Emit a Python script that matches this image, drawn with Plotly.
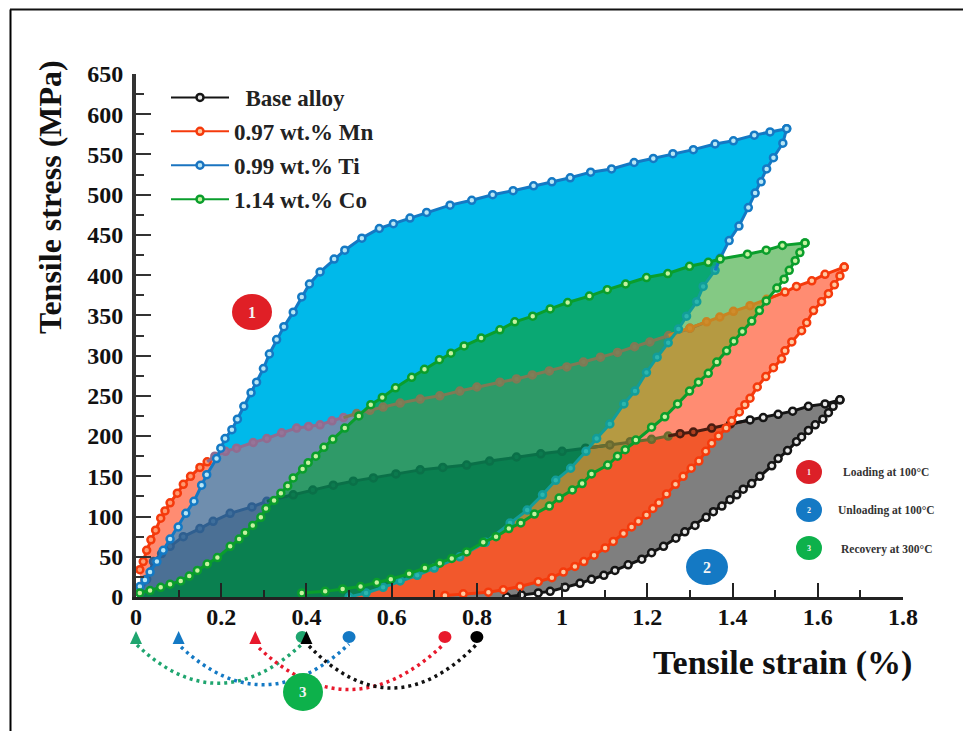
import numpy as np
import plotly.graph_objects as go
from itertools import combinations

# ---------- data (strain %, stress MPa) ----------
ti_load_x = [.009,.021,.033,.049,.064,.080,.099,.117,.136,.154,.166,.189,.199,.209,.225,.238,.253,.270,.283,.299,.313,.330,.347,.369,.389,.407,.432,.465,.490,.530,.571,.604,.643,.682,.737,.788,.837,.885,.933,.976,1.019,1.067,1.116,1.169,1.214,1.260,1.308,1.359,1.402,1.451,1.488,1.527]
ti_load_y = [13,21,31,44,58,72,87,104,119,139,152,172,185,197,208,221,237,254,267,284,302,320,336,354,373,389,404,420,431,446,458,464,471,478,487,493,500,505,511,516,521,528,532,540,545,551,556,563,567,574,578,582]
ti_unload_x = [1.527,1.518,1.496,1.480,1.467,1.453,1.437,1.415,1.392,1.371,1.359,1.331,1.316,1.292,1.273,1.249,1.223,1.198,1.171,1.145,1.112,1.081,1.056,1.020,.985,.954,.918,.878,.82,.76,.70,.66,.62,.58,.54,.50]
ti_unload_y = [582,564,546,532,516,502,484,461,443,421,406,386,367,349,333,316,298,279,256,240,215,197,181,160,145,127,108,92,68,50,36,27,20,12,5,0]

co_load_x = [.009,.033,.058,.080,.105,.125,.144,.167,.191,.221,.242,.256,.274,.293,.305,.324,.340,.356,.369,.391,.404,.422,.441,.462,.490,.523,.551,.578,.609,.647,.677,.712,.739,.770,.81,.854,.889,.931,.972,1.013,1.064,1.106,1.149,1.198,1.248,1.299,1.343,1.371,1.435,1.479,1.517,1.570]
co_load_y = [5,8,12,16,20,26,33,41,49,63,72,80,89,99,110,120,129,138,148,159,167,175,186,196,210,225,239,248,260,273,283,295,303,312,322,332,342,349,358,366,374,382,389,397,402,411,416,420,426,431,437,440]
co_unload_x = [1.570,1.558,1.547,1.533,1.521,1.504,1.479,1.463,1.445,1.423,1.403,1.386,1.363,1.343,1.320,1.299,1.271,1.241,1.210,1.173,1.148,1.130,1.107,1.069,1.047,1.024,.993,.970,.935,.903,.875,.845,.815,.776,.741,.713,.678,.641,.598,.565,.527,.485,.444,.389]
co_unload_y = [440,428,418,406,395,384,368,356,343,330,318,306,292,278,267,256,240,224,211,195,183,175,164,153,141,133,123,113,103,92,85,75,68,56,48,42,36,29,22,18,13,10,7,5]

mn_load_x = [.009,.017,.025,.035,.046,.058,.068,.080,.097,.111,.128,.150,.167,.185,.21,.236,.275,.307,.342,.377,.405,.432,.46,.487,.518,.549,.58,.62,.667,.713,.76,.80,.854,.893,.93,.97,1.011,1.05,1.09,1.13,1.17,1.206,1.25,1.30,1.339,1.37,1.402,1.441,1.48,1.523,1.550,1.586,1.617,1.662]
mn_load_y = [34,44,58,71,83,98,107,117,129,140,150,161,168,175,181,185,192,197,204,210,212,214,219,223,228,232,236,241,246,250,256,261,267,271,276,281,286,292,298,304,311,317,325,334,342,348,355,362,370,379,386,393,401,410]
mn_unload_x = [1.662,1.652,1.639,1.625,1.609,1.590,1.574,1.562,1.539,1.523,1.515,1.496,1.478,1.458,1.441,1.429,1.416,1.398,1.385,1.367,1.351,1.337,1.321,1.303,1.284,1.266,1.245,1.227,1.213,1.198,1.179,1.163,1.144,1.120,1.101,1.075,1.051,1.030,1.003,.976,.944,.901,.862,.827,.768,.725]
mn_unload_y = [410,399,388,377,367,356,341,331,317,306,296,285,274,261,247,239,230,219,210,200,191,181,169,160,150,140,128,117,110,102,94,87,79,69,61,52,44,38,31,24,19,13,9,6,4,2]

base_load_x = [.01,.025,.041,.060,.080,.111,.150,.181,.221,.272,.307,.369,.415,.463,.510,.557,.61,.667,.72,.776,.83,.893,.95,1.0,1.055,1.112,1.16,1.210,1.249,1.277,1.308,1.351,1.395,1.441,1.472,1.507,1.541,1.578,1.617,1.652]
base_load_y = [5,22,44,54,63,75,85,94,104,112,119,127,133,139,144,148,153,158,161,164,169,174,178,181,185,189,193,196,200,203,205,210,215,220,223,227,231,237,240,245]
base_unload_x = [1.652,1.636,1.625,1.612,1.594,1.578,1.562,1.550,1.529,1.507,1.492,1.464,1.445,1.425,1.410,1.394,1.375,1.355,1.338,1.312,1.288,1.267,1.238,1.210,1.187,1.155,1.124,1.098,1.069,1.042,1.007,.972,.944,.905,.87]
base_unload_y = [245,237,229,221,214,207,199,193,182,172,163,150,141,134,127,121,113,106,99,89,81,73,63,55,47,40,33,27,22,17,12,7,5,2.5,0]

series_names = ["\u00a0\u00a0Base alloy", "0.97 wt.% Mn", "0.99 wt.% Ti", "1.14 wt.% Co"]
x_tick_vals = [0, .2, .4, .6, .8, 1, 1.2, 1.4, 1.6, 1.8]
x_tick_text = ["0", "0.2", "0.4", "0.6", "0.8", "1", "1.2", "1.4", "1.6", "1.8"]
y_tick_vals = list(range(0, 651, 50))
stage_labels = ["Loading at 100\u00b0C", "Unloading at 100\u00b0C", "Recovery at 300\u00b0C"]
start_x = [0, .10, .28, .40]     # triangles below the axis
end_x = [.39, .50, .725, .80]    # circles below the axis

# ---------- page geometry ----------
W, H = 963, 731
L, R, T, B = 136, 903, 74, 597
SERIF = "Liberation Serif"
px = lambda v: (v - L) / (R - L)
py = lambda v: (B - v) / (B - T)

# ---------- fills: each overlap of the four loops gets its own colour ----------
grid = np.linspace(0, 1.67, 700)


def band(lx, ly, ux, uy):
    hi = np.interp(grid, lx, ly, left=np.nan, right=np.nan)
    o = np.argsort(ux)
    lo = np.interp(grid, np.array(ux)[o], np.array(uy)[o], left=0, right=np.nan)
    return lo, hi


bands = {
    "B": band(base_load_x, base_load_y, base_unload_x, base_unload_y),
    "M": band(mn_load_x, mn_load_y, mn_unload_x, mn_unload_y),
    "T": band(ti_load_x, ti_load_y, ti_unload_x, ti_unload_y),
    "C": band(co_load_x, co_load_y, co_unload_x, co_unload_y),
}
# the green wash runs down to the Ti unloading curve in the picture
bands["C"] = (np.fmin(bands["C"][0], bands["T"][0]), bands["C"][1])

region_colors = {
    "B": "#7f7f7f", "M": "#ff8c72", "T": "#00b9ea", "C": "#84c984",
    "BM": "#f2582c", "BT": "#4b7095", "BC": "#7f9f7f", "MT": "#6f8eae", "MC": "#b59a42", "TC": "#0aa873",
    "BMT": "#4b7095", "BMC": "#a8893a", "BTC": "#0a8050", "MTC": "#2f9a68", "BMTC": "#0a8050",
}

fig = go.Figure()
for n in range(1, 5):
    for combo in combinations("BMTC", n):
        lo = np.max([bands[k][0] for k in combo], axis=0)
        hi = np.min([bands[k][1] for k in combo], axis=0)
        ok = np.nan_to_num(hi, nan=-1) > np.nan_to_num(lo, nan=1e9)
        xs, ys = [], []
        idx = np.flatnonzero(ok)
        if len(idx) == 0:
            continue
        for run in np.split(idx, np.flatnonzero(np.diff(idx) > 1) + 1):
            xs += list(grid[run]) + list(grid[run][::-1]) + [None]
            ys += list(hi[run]) + list(lo[run][::-1]) + [None]
        fig.add_trace(go.Scatter(x=xs, y=ys, mode="lines", fill="toself", line=dict(width=0),
                                 fillcolor=region_colors["".join(combo)], hoverinfo="skip", showlegend=False))


# ---------- curves: colour shifts where a curve runs under a wash ----------
def curve(xv, yv, pieces):
    xv, yv = np.array(xv), np.array(yv)
    prev = -1.0
    for xmax, c, inner in pieces:
        m = np.flatnonzero((xv >= prev) & (xv <= xmax))
        if len(m) == 0:
            continue
        i0, i1 = max(m.min() - 1, 0), min(m.max() + 1, len(xv) - 1)
        fig.add_trace(go.Scatter(x=xv[i0:i1 + 1], y=yv[i0:i1 + 1], mode="lines", line=dict(color=c, width=3),
                                 showlegend=False, hoverinfo="skip"))
        fig.add_trace(go.Scatter(x=xv[m], y=yv[m], mode="markers", showlegend=False, hoverinfo="skip",
                                 marker=dict(size=7, color=inner, line=dict(color=c, width=2.5))))
        prev = xmax


RED, RED_IN = "#f53a0c", "#ffc9a0"
BLUE, BLUE_IN = "#1479c4", "#b8e6f5"
GREEN, GREEN_IN = "#0a9e2c", "#c6f2a0"
BLACK, BLACK_IN = "#151515", "#e8e8e8"

curve(base_load_x, base_load_y, [(.31, "#2f5f90", "#3f6f9c"), (1.10, "#0a7048", "#0c7a4e"),
                                 (1.27, "#6a6a30", "#7a7a38"), (1.43, "#4a1c10", "#b04020"), (2, BLACK, BLACK_IN)])
curve(base_unload_x[::-1], base_unload_y[::-1], [(2, BLACK, BLACK_IN)])
curve(mn_load_x, mn_load_y, [(.175, RED, "#ff9a70"), (.49, "#916c90", "#977498"), (1.30, "#7f7a55", "#7f7f58"),
                             (1.50, "#c98422", "#cf8c2c"), (2, RED, RED_IN)])
curve(mn_unload_x[::-1], mn_unload_y[::-1], [(2, RED, RED_IN)])
curve(ti_load_x, ti_load_y, [(2, BLUE, BLUE_IN)])
curve(ti_unload_x[::-1], ti_unload_y[::-1], [(1.37, "#129d9a", "#2cb6ae"), (2, BLUE, BLUE_IN)])
curve(co_load_x, co_load_y, [(2, GREEN, GREEN_IN)])
curve(co_unload_x[::-1], co_unload_y[::-1], [(2, GREEN, GREEN_IN)])

# ---------- legend ----------
for nm, c, inner in zip(series_names, [BLACK, RED, "#1a74c0", GREEN], [BLACK_IN, RED_IN, BLUE_IN, GREEN_IN]):
    fig.add_trace(go.Scatter(x=[None], y=[None], name=nm, legendgroup=nm, mode="lines+markers",
                             line=dict(color=c, width=2),
                             marker=dict(size=7, color=inner, line=dict(color=c, width=2.5))))

# ---------- frame, arcs, markers, badges ----------
shapes = [
    dict(type="line", xref="paper", yref="paper", x0=px(10.5), x1=px(10.5), y0=py(9.5), y1=py(H), line=dict(color="black", width=2)),
    dict(type="line", xref="paper", yref="paper", x0=px(10), x1=px(W), y0=py(9.5), y1=py(9.5), line=dict(color="#111", width=2)),
]
annos = []


def arc(x0, y0, cx, cy, x1, y1, c):
    path = f"M {px(x0):.5f} {py(y0):.5f} Q {px(cx):.5f} {py(cy):.5f} {px(x1):.5f} {py(y1):.5f}"
    shapes.append(dict(type="path", xref="paper", yref="paper", path=path, line=dict(color=c, width=3.5, dash="3px,4px")))


arc(137, 645, 218, 722, 302, 644, "#1fa56f")
arc(181, 647, 264, 724, 349, 644, "#1479c4")
arc(259, 648, 350, 733, 444, 644, "#e8192c")
arc(309, 646, 392, 731, 477, 644, "#111111")

mark_colors = ["#1fa56f", "#1479c4", "#e8192c", "#000000"]
for sx, ex, c in zip(start_x, end_x, mark_colors):
    shapes.append(dict(type="path", xref="paper", yref="paper", xsizemode="pixel", ysizemode="pixel",
                       xanchor=sx / 1.8, yanchor=py(638), path="M -6 -6 L 6 -6 L 0 7 Z", fillcolor=c, line=dict(width=0)))
    shapes.append(dict(type="circle", xref="paper", yref="paper", xsizemode="pixel", ysizemode="pixel",
                       xanchor=ex / 1.8, yanchor=py(637), x0=-6.5, x1=6.5, y0=-6, y1=6, fillcolor=c, line=dict(width=0)))


def note(x, y, text, size, color, **kw):
    annos.append(dict(x=px(x), y=py(y), xref="paper", yref="paper", text=f"<b>{text}</b>", showarrow=False,
                      xanchor="center", yanchor="middle", font=dict(family=SERIF, size=size, color=color), **kw))


def badge(cx, cy, rx, ry, fill, label, size):
    shapes.append(dict(type="circle", xref="paper", yref="paper", layer="above",
                       x0=px(cx - rx), x1=px(cx + rx), y0=py(cy + ry), y1=py(cy - ry),
                       fillcolor=fill, line=dict(width=0)))
    note(cx, cy, label, size, "#f4f4f4")


badge(252, 312, 20, 18, "#e01f26", "1", 16)
badge(707, 567, 21, 18, "#1479c4", "2", 16)
badge(303, 692, 20, 19, "#0db14b", "3", 15)
badge(809, 472, 13, 12, "#dc2028", "1", 8)
badge(809, 510, 13, 12, "#1479c4", "2", 8)
badge(809, 548, 13, 12, "#0db14b", "3", 8)
for lbl, yy in zip(stage_labels, [472, 510, 549]):
    note(886, yy, lbl, 11.5, "#333")
note(50, 197, "Tensile stress (MPa)", 32, "#111", textangle=-90)
note(782, 663, "Tensile strain (%)", 34, "#111")

axis_font = dict(family=SERIF, size=24, color="#111", weight="bold")
fig.update_layout(
    width=W, height=H, margin=dict(l=L, r=W - R, t=T, b=H - B, pad=0), paper_bgcolor="white", plot_bgcolor="white",
    shapes=shapes, annotations=annos, font=dict(family=SERIF),
    legend=dict(x=px(166), y=py(76), xanchor="left", yanchor="top", itemwidth=58, tracegroupgap=1,
                bgcolor="rgba(0,0,0,0)", font=dict(family=SERIF, size=23, color="#222", weight="bold")),
    xaxis=dict(range=[0, 1.8], tickvals=x_tick_vals, ticktext=x_tick_text, ticks="inside", ticklen=14, tickwidth=2,
               tickcolor="#222", showgrid=False, zeroline=False, showline=True, linecolor="#222", linewidth=3,
               tickfont=axis_font, ticklabelstandoff=-4,
               minor=dict(dtick=.1, tick0=0, ticks="inside", ticklen=7, tickwidth=2, tickcolor="#222")),
    yaxis=dict(range=[0, 650], tickvals=y_tick_vals, ticks="inside", ticklen=15, tickwidth=2, tickcolor="#333",
               showgrid=False, zeroline=False, showline=True, linecolor="#333", linewidth=4,
               tickfont=axis_font, ticklabelstandoff=4,
               minor=dict(dtick=25, tick0=0, ticks="inside", ticklen=8, tickwidth=2, tickcolor="#333")),
)
fig.write_html("out.html", config={"displayModeBar": False}, post_script="document.body.style.margin='0';")
